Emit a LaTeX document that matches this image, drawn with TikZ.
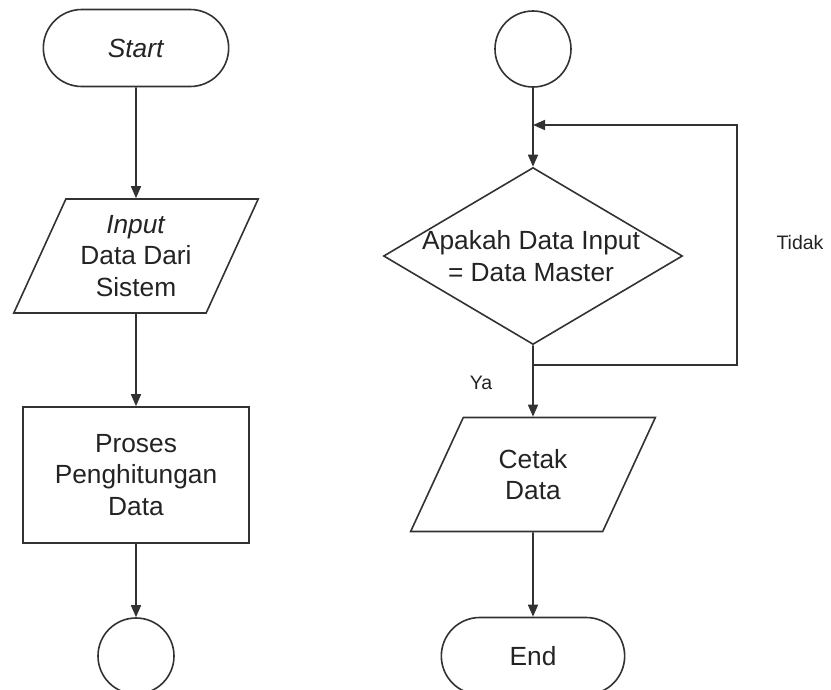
\documentclass[tikz,border=0pt]{standalone}
\usepackage{fontspec}
\setmainfont{Liberation Sans}
\usetikzlibrary{shapes.geometric,shapes.misc,arrows.meta}
\definecolor{fcline}{RGB}{50,50,50}
\definecolor{fctext}{RGB}{35,35,35}

\begin{document}
\begin{tikzpicture}[x=1pt,y=-1pt,
  every node/.style={font=\fontsize{26.3}{31.5}\selectfont, text=fctext, align=center},
  terminal/.style={draw=fcline, line width=1.6pt, rounded rectangle, minimum width=192pt, minimum height=77pt},
  io/.style={draw=fcline, line width=1.6pt, trapezium, trapezium left angle=63.4, trapezium right angle=116.6,
    trapezium stretches=true, minimum width=245pt, minimum height=114pt, inner sep=2pt},
  proses/.style={draw=fcline, line width=1.6pt, rectangle, minimum width=226pt, minimum height=136pt},
  konektor/.style={draw=fcline, line width=1.6pt, circle, minimum size=76pt, inner sep=0pt},
  keputusan/.style={draw=fcline, line width=1.6pt, diamond, minimum width=299pt, minimum height=177pt, inner sep=0pt},
  panah/.style={draw=fcline, line width=1.6pt, -{Triangle[length=12pt,width=10pt]}},
  ket/.style={font=\fontsize{19.5}{23}\selectfont}
]
\useasboundingbox (0,0) rectangle (831,689);
\clip (0,0) rectangle (831,689);

% kolom kiri
\node[terminal] (mulai) at (136,48) {\textit{Start}};
\node[io] (input) at (136,256) {\textit{Input}\\Data Dari\\Sistem};
\node[proses] (hitung) at (136,475) {Proses\\Penghitungan\\Data};
\node[konektor] (sambung1) at (136,656) {};

% kolom kanan
\node[konektor] (sambung2) at (533,49) {};
\node[keputusan] (cek) at (533,256) {};
\node (cektext) at (531,256) {Apakah Data Input\\= Data Master};
\node[io] (cetak) at (533,474.5) {Cetak\\Data};
\node[terminal, minimum width=190pt] (selesai) at (533,656) {End};
\node[ket] (tidak) at (800,243) {Tidak};
\node[ket] (ya) at (481,383) {Ya};

\coordinate (cabang) at (533,365);
\coordinate (balik) at (533,125);

% alur
\draw[panah] (mulai) -- (input);
\draw[panah] (input) -- (hitung);
\draw[panah] (hitung) -- (sambung1);
\draw[panah] (sambung2) -- (cek);
\draw[panah] (cek) -- (cetak);
\draw[panah] (cetak) -- (selesai);
% ulang jika tidak sama
\draw[panah] (cabang) -- ++(204,0) |- (balik);
\end{tikzpicture}
\end{document}
